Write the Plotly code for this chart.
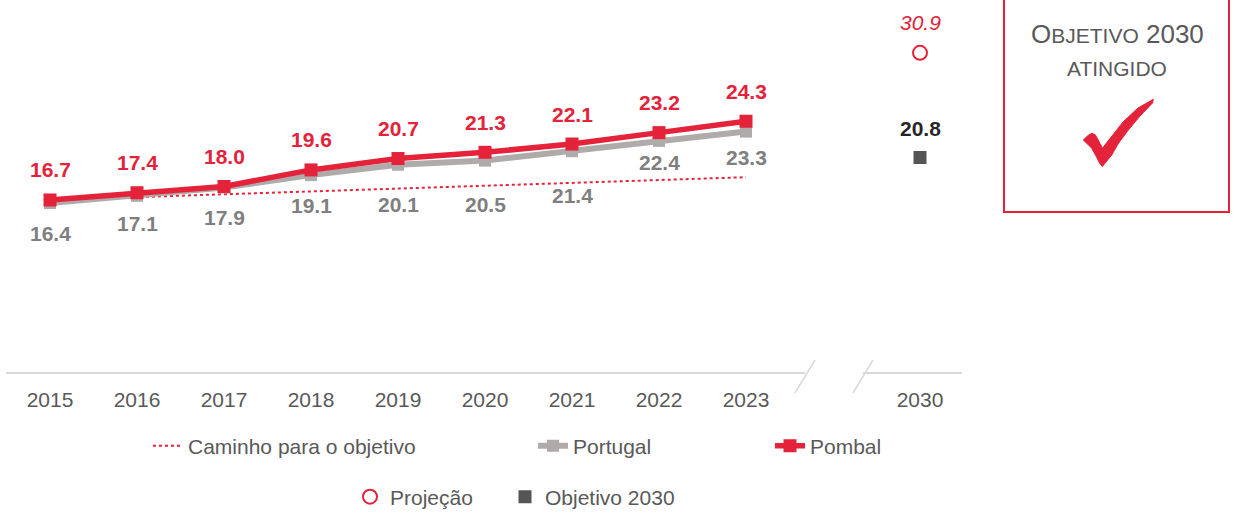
import plotly.graph_objects as go

# ---------------- data ----------------
years = ["2015", "2016", "2017", "2018", "2019", "2020", "2021", "2022", "2023"]
target_year = "2030"
pombal = [16.7, 17.4, 18.0, 19.6, 20.7, 21.3, 22.1, 23.2, 24.3]
portugal = [16.4, 17.1, 17.9, 19.1, 20.1, 20.5, 21.4, 22.4, 23.3]
path_years = ["2015", "2023"]
path_values = [16.7, 18.9]
projection_2030 = [30.9]
objective_2030 = [20.8]

# label offsets (pixels) for the Portugal value labels (placed below the line)
portugal_label_shift = [-30, -28, -30, -30, -40, -44, -44, -22, -26]

# ---------------- layout geometry ----------------
W, H = 1235, 516
ML, MR, MT, MB = 6, 273, 0, 131
PW, PH = W - ML - MR, H - MT - MB
X_STEP = 87.0
x_min = -(50 - ML) / X_STEP
x_max = x_min + PW / X_STEP
y_top = 36.0
px_per_unit = 373.0 / y_top
y_min = -(PH - 373.0) / px_per_unit

pos = {y: i for i, y in enumerate(years)}
pos[target_year] = len(years) + 1

RED = "#E42239"
GRAY_LINE = "#AFABAB"
GRAY_TXT = "#7F7F7F"
DARK = "#595959"
FONT = "Liberation Sans, Arial, sans-serif"


def px_x(p):
    return (p - ML) / PW


def px_y(p):
    return (MT + PH - p) / PH


xs = [pos[y] for y in years]

fig = go.Figure()

fig.add_trace(go.Scatter(
    x=[pos[y] for y in path_years], y=path_values, mode="lines",
    line=dict(color=RED, width=2, dash="dot"),
    name="Caminho para o objetivo", legend="legend"))

fig.add_trace(go.Scatter(
    x=xs, y=portugal, mode="lines+markers",
    line=dict(color=GRAY_LINE, width=6),
    marker=dict(symbol="square", size=12, color=GRAY_LINE),
    name="Portugal", legend="legend2"))

fig.add_trace(go.Scatter(
    x=xs, y=pombal, mode="lines+markers",
    line=dict(color=RED, width=5.5),
    marker=dict(symbol="square", size=13, color=RED),
    name="Pombal", legend="legend3"))

fig.add_trace(go.Scatter(
    x=[pos[target_year]], y=projection_2030, mode="markers",
    marker=dict(symbol="circle-open", size=14, color=RED, line=dict(width=2, color=RED)),
    name="Projeção", legend="legend4"))

fig.add_trace(go.Scatter(
    x=[pos[target_year]], y=objective_2030, mode="markers",
    marker=dict(symbol="square", size=13, color="#555555"),
    name="Objetivo 2030", legend="legend5"))

annotations = []
for x, v in zip(xs, pombal):
    annotations.append(dict(x=x, y=v, text=f"<b>{v:.1f}</b>", showarrow=False,
                            yshift=30, font=dict(size=21, color=RED, family=FONT)))
for x, v, s in zip(xs, portugal, portugal_label_shift):
    annotations.append(dict(x=x, y=v, text=f"<b>{v:.1f}</b>", showarrow=False,
                            yshift=s, font=dict(size=21, color=GRAY_TXT, family=FONT)))
annotations.append(dict(x=pos[target_year], y=projection_2030[0], text=f"<i>{projection_2030[0]:.1f}</i>",
                        showarrow=False, yshift=30, font=dict(size=21, color=RED, family=FONT)))
annotations.append(dict(x=pos[target_year], y=objective_2030[0], text=f"<b>{objective_2030[0]:.1f}</b>",
                        showarrow=False, yshift=29, font=dict(size=21, color="#262626", family=FONT)))

# box text
annotations.append(dict(xref="paper", yref="paper", x=px_x(1117), y=px_y(34),
                        xanchor="center", yanchor="middle",
                        text='O<span style="font-size:21px">BJETIVO</span> 2030',
                        showarrow=False, font=dict(size=26, color=DARK, family=FONT)))
annotations.append(dict(xref="paper", yref="paper", x=px_x(1117), y=px_y(69),
                        xanchor="center", yanchor="middle",
                        text="ATINGIDO", showarrow=False,
                        font=dict(size=21, color=DARK, family=FONT)))

# check-mark icon outline (pixel points of the decoration)
check_pts = [(1083.3, 140), (1088, 135.5), (1091.7, 133.3), (1095, 134.5), (1097.5, 138.5),
             (1100, 143.5), (1102.3, 148.3), (1112, 136), (1123.3, 121.7), (1138, 108), (1153.3, 99.3),
             (1152.5, 103), (1140, 116), (1128.3, 130), (1118, 144), (1111.7, 155), (1106, 162),
             (1102.3, 166.5), (1099.5, 163), (1096, 156), (1091.7, 148.3), (1088, 144.5)]
check_path = "M " + " L ".join(f"{px_x(a):.5f},{px_y(b):.5f}" for a, b in check_pts) + " Z"

shapes = [
    # axis line with a break
    dict(type="line", xref="x", yref="y", x0=x_min, x1=(805 - 50) / X_STEP, y0=0, y1=0,
         line=dict(color="#D9D9D9", width=2)),
    dict(type="line", xref="x", yref="y", x0=(863 - 50) / X_STEP, x1=x_max, y0=0, y1=0,
         line=dict(color="#D9D9D9", width=2)),
    dict(type="line", xref="paper", yref="paper", x0=px_x(795), x1=px_x(815), y0=px_y(393), y1=px_y(360),
         line=dict(color="#D9D9D9", width=1.5)),
    dict(type="line", xref="paper", yref="paper", x0=px_x(853), x1=px_x(873), y0=px_y(393), y1=px_y(360),
         line=dict(color="#D9D9D9", width=1.5)),
    # box
    dict(type="rect", xref="paper", yref="paper", x0=px_x(1004), x1=px_x(1229), y0=px_y(212), y1=px_y(-5),
         line=dict(color=RED, width=2)),
    dict(type="path", xref="paper", yref="paper", path=check_path,
         fillcolor=RED, line=dict(color=RED, width=1)),
]

leg_common = dict(orientation="h", xref="container", yref="container", xanchor="left", yanchor="middle",
                  bgcolor="rgba(0,0,0,0)", font=dict(size=21, color=DARK, family=FONT))


def leg(text_px, y_px):
    d = dict(leg_common)
    d.update(x=(text_px - 40) / W, y=1 - (y_px - 1) / H)
    return d


fig.update_layout(
    width=W, height=H,
    margin=dict(l=ML, r=MR, t=MT, b=MB, autoexpand=False),
    paper_bgcolor="white", plot_bgcolor="white",
    showlegend=True,
    xaxis=dict(range=[x_min, x_max], tickvals=[pos[y] for y in years] + [pos[target_year]],
               ticktext=years + [target_year], showgrid=False, zeroline=False, showline=False,
               ticks="", tickfont=dict(size=21, color=DARK, family=FONT)),
    yaxis=dict(range=[y_min, y_top], visible=False),
    legend=leg(188, 447), legend2=leg(573, 447), legend3=leg(810, 447),
    legend4=leg(390, 498), legend5=leg(545, 498),
    annotations=annotations, shapes=shapes,
    font=dict(family=FONT),
)

fig.write_html("out.html", config={"displayModeBar": False},
               post_script="document.body.style.margin='0';document.body.style.overflow='hidden';")
